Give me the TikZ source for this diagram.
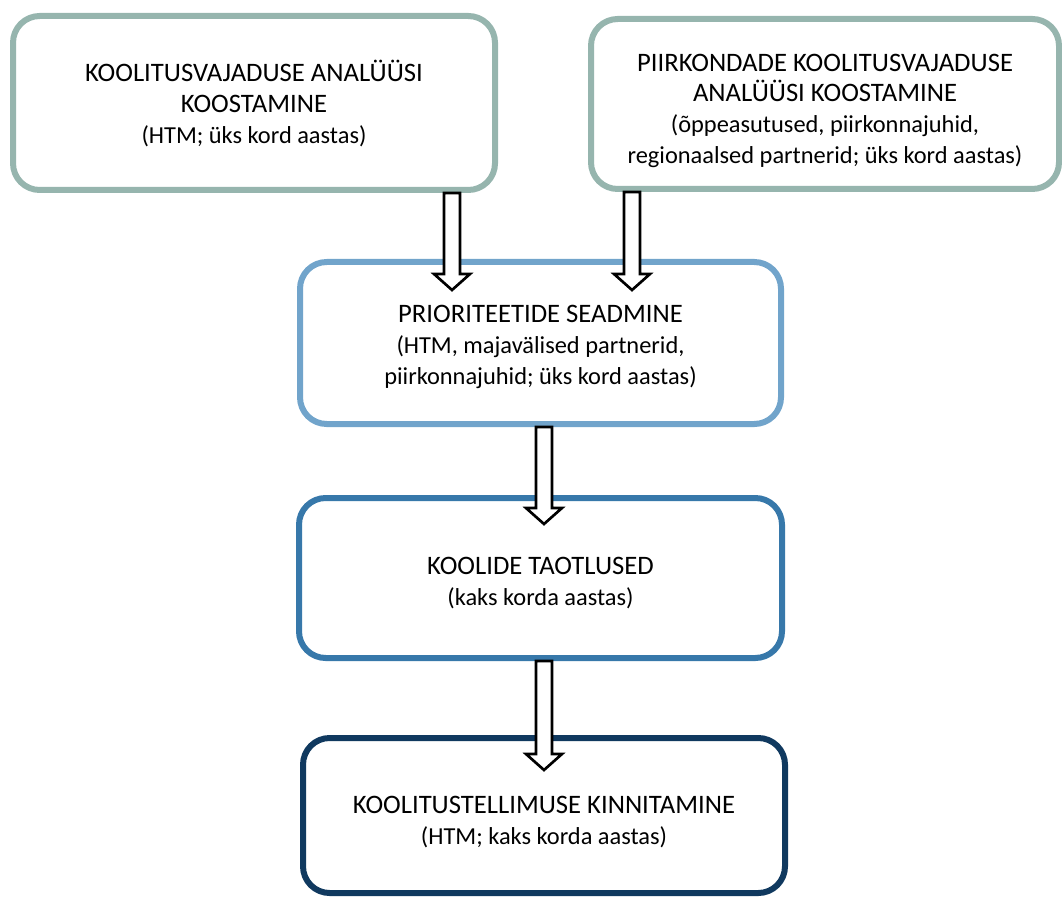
\documentclass[tikz,border=0pt]{standalone}
\usepackage{fontspec}
\setmainfont{Carlito}
\usetikzlibrary{calc, positioning}
\definecolor{needcol}{RGB}{150,181,174}
\definecolor{priocol}{RGB}{113,164,203}
\definecolor{applcol}{RGB}{55,120,170}
\definecolor{ordercol}{RGB}{16,57,95}
\newcommand{\who}[1]{{\fontsize{18.3}{22}\selectfont #1}}
\newcommand{\drop}[1]{\rule{0pt}{#1}}
\tikzstyle{stage} = [rectangle, draw, line width=4.5pt, fill=white, rounded corners=20pt, align=center, inner sep=2pt, font=\fontsize{20}{23}\selectfont]
\tikzstyle{needs} = [stage, draw=needcol]
\tikzstyle{prio} = [stage, draw=priocol]
\tikzstyle{appl} = [stage, draw=applcol]
\tikzstyle{order} = [stage, draw=ordercol]
\tikzstyle{line} = [draw, fill=white, line width=2pt, line join=miter]
% block arrow from #1 down to the tip #2
\newcommand{\flowarrow}[2]{\path[line] let \p1=#1, \p2=#2 in (\x1-6pt,\y1) -- (\x1-6pt,\y2+12pt) -- (\x1-13.5pt,\y2+12pt) -- (\x1,\y2) -- (\x1+13.5pt,\y2+12pt) -- (\x1+6pt,\y2+12pt) -- (\x1+6pt,\y1) -- cycle;}

\begin{document}
\begin{tikzpicture}[x=0.75pt, y=-0.75pt]
\useasboundingbox (0,0) rectangle (1062,898);
\node [needs, minimum width=361.5pt, minimum height=130.5pt] (kva) at (254,103) {\drop{17pt}KOOLITUSVAJADUSE ANALÜÜSI\\ KOOSTAMINE\\ \who{(HTM; üks kord aastas)}};
\node [needs, minimum width=351pt, minimum height=127.5pt] (pkva) at (825,104) {\drop{23pt}PIIRKONDADE KOOLITUSVAJADUSE\\ ANALÜÜSI KOOSTAMINE\\ \who{(õppeasutused, piirkonnajuhid,}\\ \who{regionaalsed partnerid; üks kord aastas)}};
\node [prio, minimum width=360.75pt, minimum height=121.5pt] (prio) at (540.5,343) {\drop{19pt}PRIORITEETIDE SEADMINE\\ \who{(HTM, majavälised partnerid,}\\ \who{piirkonnajuhid; üks kord aastas)}};
\node [appl, minimum width=362.25pt, minimum height=120pt] (appl) at (540.5,578) {\drop{21pt}KOOLIDE TAOTLUSED\\ \who{(kaks korda aastas)}};
\node [order, minimum width=361.5pt, minimum height=116.25pt] (order) at (544,815.5) {\drop{22.5pt}KOOLITUSTELLIMUSE KINNITAMINE\\ \who{(HTM; kaks korda aastas)}};
\coordinate (tip1) at ($(prio.north west)+(155,31)$);
\coordinate (tip2) at ($(prio.north west)+(335,31)$);
\coordinate (tip3) at ($(appl.north)+(3.5,29)$);
\coordinate (tip4) at ($(order.north)+(0,35)$);
\flowarrow{(kva.south -| tip1)}{(tip1)}
\flowarrow{(pkva.south -| tip2)}{(tip2)}
\flowarrow{(prio.south -| tip3)}{(tip3)}
\flowarrow{(appl.south -| tip4)}{(tip4)}
\end{tikzpicture}
\end{document}
